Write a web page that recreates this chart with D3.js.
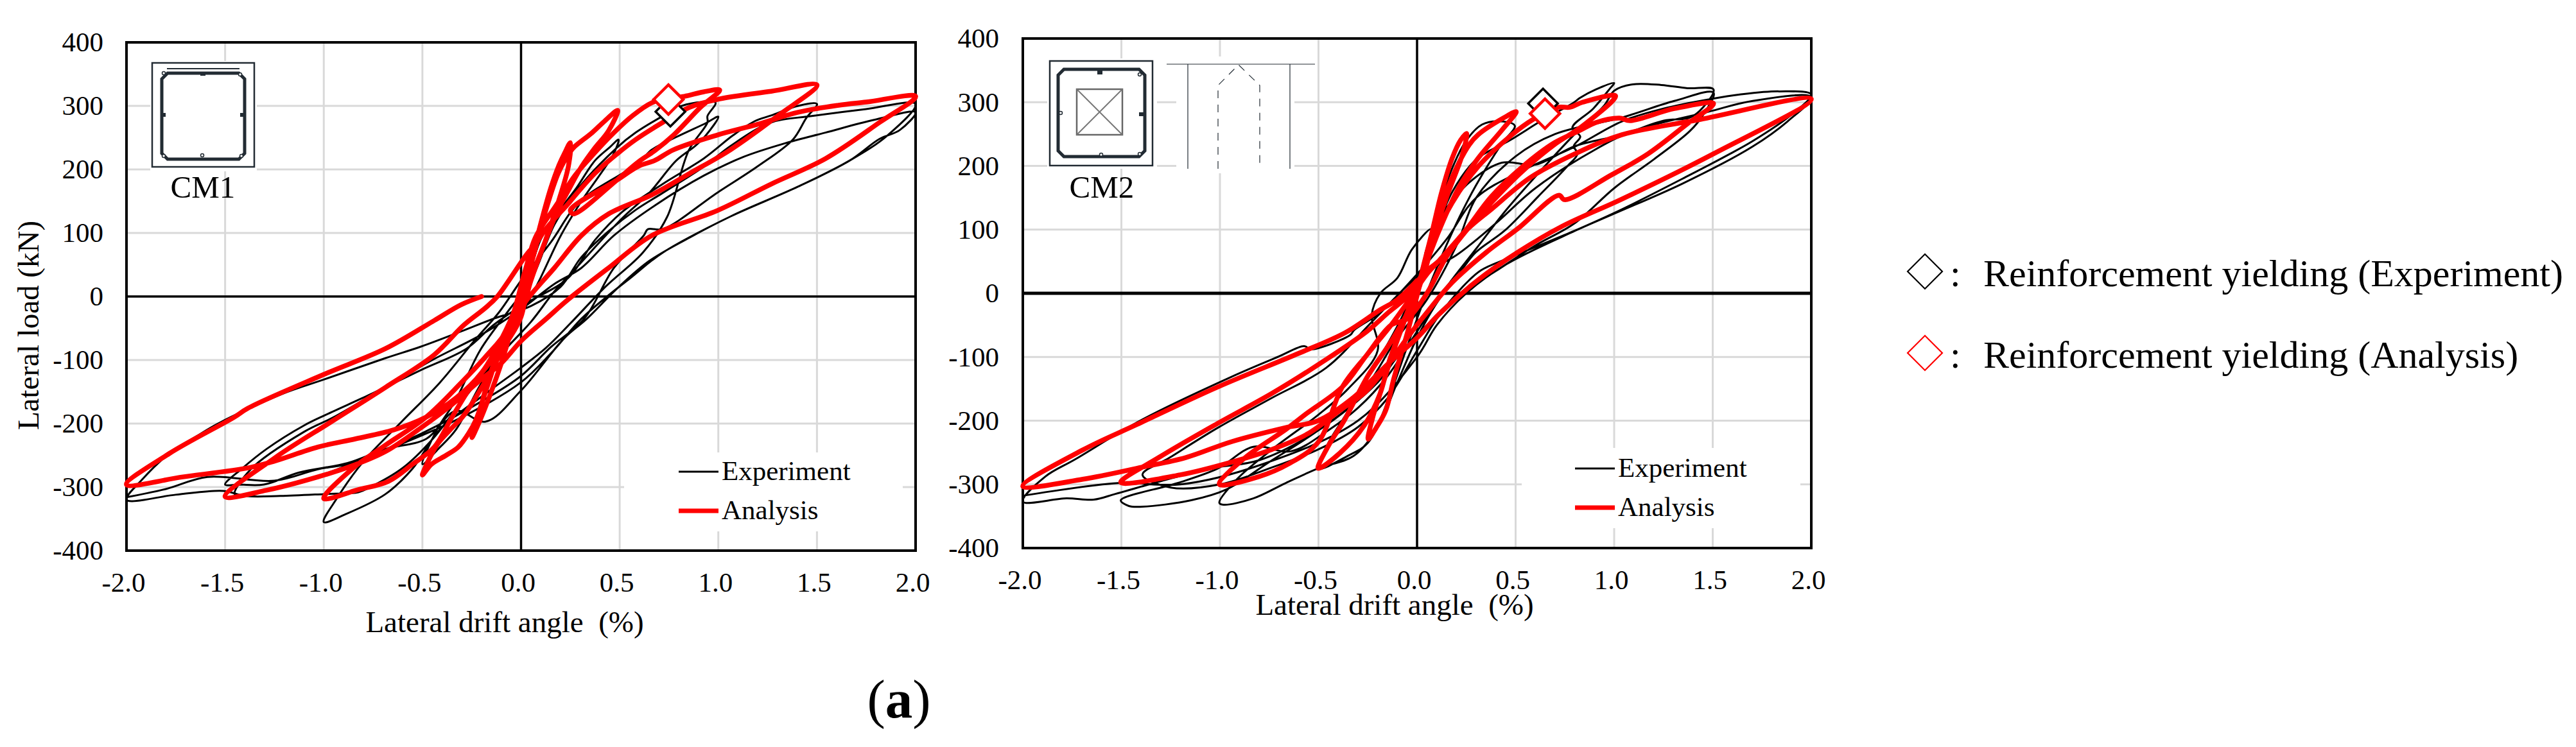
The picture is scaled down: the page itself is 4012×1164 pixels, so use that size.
<!DOCTYPE html>
<html>
<head>
<meta charset="utf-8">
<script src="https://cdn.jsdelivr.net/npm/d3@7"></script>
<style>
  html, body { margin: 0; background: #fff; }
  svg { display: block; }
  text { font-family: "Liberation Serif", serif; fill: #000; white-space: pre; }
</style>
</head>
<body>
<div id="chart"></div>
<script>
// values: [drift %, load kN]
var xTicks = [-2, -1.5, -1, -0.5, 0, 0.5, 1, 1.5, 2];
var xTickLabels = ["-2.0", "-1.5", "-1.0", "-0.5", "0.0", "0.5", "1.0", "1.5", "2.0"];
var yTicks = [-400, -300, -200, -100, 0, 100, 200, 300, 400];
var yTickLabels = ["-400", "-300", "-200", "-100", "0", "100", "200", "300", "400"];
var xTitle = "Lateral drift angle  (%)";
var yTitle = "Lateral load (kN)";
var seriesNames = ["Experiment", "Analysis"];
var yieldNames = ["Reinforcement yielding (Experiment)", "Reinforcement yielding (Analysis)"];

var cm1Experiment = [
  [0,0],[.05,45],[.1,90],[.169,125],[.279,170],[.375,214],[.45,235],[.494,247],
  [.47,225],[.306,150],[.2,95],[.1,30],[0,-30],[-.07,-70],[-.208,-140],[-.331,-210],[-.42,-240],[-.5,-264],
  [-.427,-210],[-.331,-163],[-.208,-85],[-.07,-25],[.05,25],[.169,113],[.29,170],[.485,234],[.581,258],
  [.718,284],[.815,300],[.918,306],[.986,305],[.945,284],[.945,274],
  [.85,230],[.74,125],[.617,69],[.43,16],[.248,-43],[.126,-81],[0,-112],[-.18,-153],[-.413,-210],[-.55,-271],
  [-.687,-311],[-.892,-343],[-1,-355],[-.934,-318],[-.8,-260],[-.605,-197],[-.413,-136],[-.235,-69],[-.112,-25],
  [0,25],[.15,85],[.3,150],[.595,210],[.663,231],[.787,251],[.938,273],[1,283],
  [.938,254],[.883,237],[.787,214],[.65,163],[.512,123],[.279,45],[.169,8],[.05,-40],[-.1,-90],[-.3,-165],
  [-.45,-225],[-.6,-270],[-.77,-301],[-.824,-308],[-1,-311],[-1.22,-314],[-1.4,-314],[-1.508,-306],[-1.75,-312],[-2,-320],
  [-1.92,-288],[-1.782,-247],[-1.645,-220],[-1.536,-200],[-1.207,-153],[-1.002,-131],[-.687,-97],[-.509,-79],[-.304,-55],[-.14,-35],
  [.05,-15],[.2,15],[.306,62],[.444,103],[.58,136],[.718,163],[.925,204],[1.062,237],[1.268,274],[1.474,284],[1.749,295],[2,303],
  [1.859,254],[1.666,214],[1.405,173],[1.062,126],[.856,93],[.65,56],[.485,12],[.334,-35],[.218,-66],[0,-148],
  [-.18,-197],[-.331,-180],[-.48,-224],[-.687,-240],[-.879,-262],[-1.125,-277],[-1.303,-296],[-1.43,-296],[-1.5,-296],
  [-1.415,-271],[-1.29,-240],[-1.1,-203],[-.988,-186],[-.756,-153],[-.509,-116],[-.276,-82],[-.14,-45],[0,-15],
  [.238,29],[.375,89],[.512,133],[.718,177],[.925,217],[1.076,254],[1.185,276],[1.268,285],[1.404,300],[1.5,303],
  [1.446,281],[1.378,247],[1.2,205],[.993,163],[.718,106],[.643,106],[.622,96],[.471,45],[.32,-35],[.15,-80],[0,-125],
  [-.2,-165],[-.5,-215],[-.8,-255],[-1,-280],[-1.2,-298],[-1.45,-312],[-1.37,-272],[-1.1,-213],[-.95,-190],[-.7,-145],[-.45,-100],
  [-.2,-60],[0,-20],[.17,20],[.306,45],[.471,96],[.677,143],[.925,190],[1.13,220],[1.337,241],[1.543,258],[1.79,278],[2,290],
  [1.92,262],[1.817,248],[1.666,214],[1.405,173],[1.062,126],[.718,69],[.554,29],[.444,2],[.306,-35],[.15,-90],[0,-135],
  [-.3,-190],[-.646,-237],[-.85,-262],[-1.03,-272],[-1.25,-290],[-1.59,-284],[-1.8,-303],[-2,-316]
];

var cm1Analysis = [
  [0,0],[.05,55],[.1,115],[.15,170],[.19,205],[.22,225],[.25,242],
  [.24,205],[.19,150],[.12,85],[.05,30],[0,-15],[-.05,-55],[-.1,-105],[-.167,-163],[-.215,-200],[-.249,-222],
  [-.215,-186],[-.16,-125],[-.1,-75],[-.05,-35],[0,5],
  [.05,50],[.12,130],[.19,195],[.25,228],[.272,236],[.361,258],[.42,275],[.49,293],
  [.444,261],[.37,232],[.306,204],[.245,170],[.183,133],[.12,85],[.05,25],[0,-25],
  [-.05,-40],[-.12,-95],[-.18,-150],[-.23,-195],[-.263,-214],[-.318,-237],[-.38,-250],[-.454,-264],[-.5,-281],
  [-.427,-234],[-.36,-210],[-.29,-187],[-.18,-133],[-.085,-79],[0,-32],
  [.073,80],[.25,150],[.375,194],[.485,224],[.581,247],[.718,274],[.856,298],[1.007,311],[1.268,323],[1.5,333],
  [1.309,286],[1.062,231],[.856,194],[.663,160],[.444,130],[.306,96],[.169,45],[.03,-5],[-.07,-52],
  [-.15,-100],[-.25,-140],[-.35,-190],[-.44,-237],[-.55,-264],[-.673,-291],[-.824,-304],[-1,-318],
  [-.851,-270],[-.687,-234],[-.482,-190],[-.304,-136],[-.18,-95],[-.07,-52],[.02,40],
  [.073,93],[.183,146],[.265,187],[.37,225],[.471,258],[.567,285],[.663,305],[.747,312],[.828,315],[.924,322],[1.007,325],
  [.91,298],[.773,254],[.68,230],[.595,212],[.485,183],[.265,130],[.25,136],[.485,183],
  [.595,205],[.677,214],[.773,231],[.993,254],[1.2,271],[1.405,290],[1.61,301],[1.75,306],[2,315],
  [1.817,274],[1.543,217],[1.268,177],[.993,135],[.663,96],[.444,45],[.238,-5],[.128,-35],[0,-70],[-.1,-105],
  [-.2,-130],[-.35,-170],[-.5,-205],[-.687,-244],[-.851,-266],[-1.03,-284],[-1.29,-305],[-1.5,-315],
  [-1.248,-254],[-.961,-197],[-.687,-143],[-.441,-92],[-.29,-45],[-.181,-18],[-.12,0],[.06,76],
  [.02,20],[-.08,-55],[-.2,-120],[-.331,-160],[-.482,-190],[-.646,-210],[-.838,-224],[-1.03,-237],[-1.248,-259],
  [-1.372,-269],[-1.714,-284],[-2,-296],
  [-1.782,-247],[-1.454,-190],[-1.385,-176],[-1.002,-123],[-.687,-82],[-.441,-38],[-.304,-13],[-.2,0]
];

var cm2Experiment = [
  [0,0],[.05,60],[.1,120],[.17,190],[.25,240],[.33,265],[.42,270],[.496,263],
  [.43,235],[.3,170],[.2,110],[.1,40],[0,-40],[-.08,-110],[-.15,-170],[-.25,-235],[-.35,-255],[-.5,-275],
  [-.45,-235],[-.36,-190],[-.25,-130],[-.15,-80],[-.05,-20],[.06,70],[.18,160],[.3,210],[.47,240],[.642,273],
  [.788,298],[.828,307],[.907,320],[1,330],[.98,322],[.894,290],[.788,260],[.828,246],[.795,231],[.814,219],
  [.761,199],[.615,152],[.443,98],[.297,64],[.204,27],[.111,-10],[0,-70],[-.1,-140],[-.2,-210],[-.32,-255],
  [-.502,-275],[-.667,-298],[-.831,-322],[-.982,-332],[-1.003,-329],[-.914,-292],[-.735,-245],[-.502,-191],
  [-.35,-150],[-.2,-90],[-.23,-34],[-.186,0],[-.1,24],[-.026,69],[.072,101],[.04,60],[.12,120],[.25,170],[.43,205],
  [.602,202],[.801,231],[1.04,249],[1.252,271],[1.385,276],[1.451,292],[1.504,320],[1.372,322],[1.239,327],[1.093,328],[1,318],
  [.95,295],[.8,250],[.62,190],[.45,130],[.3,70],[.15,10],[0,-60],[-.15,-130],[-.3,-180],[-.45,-215],[-.639,-248],
  [-.831,-241],[-1.01,-275],[-1.215,-298],[-1.503,-325],[-1.462,-334],[-1.393,-335],[-1.146,-325],[-.967,-308],[-.75,-265],
  [-.5,-215],[-.3,-165],[-.1,-70],[.05,-10],[.2,75],[.3,150],[.5,215],[.7,250],[1.04,276],[1.305,302],[1.504,315],
  [1.451,280],[1.385,255],[1.2,210],[1,165],[.8,110],[.6,75],[.4,35],[.2,-5],[.05,-50],[-.1,-100],[-.2,-140],
  [-.5,-215],[-.8,-262],[-1.05,-275],[-1.3,-295],[-1.53,-315],[-1.64,-324],[-1.778,-322],[-2,-327],
  [-1.887,-288],[-1.736,-261],[-1.393,-198],[-.941,-131],[-.707,-100],[-.571,-83],[-.54,-88],[-.337,-65],[-.32,-58],[-.187,-30],
  [0,30],[.15,85],[.3,150],[.55,195],[.8,230],[1.04,270],[1.25,290],[1.491,305],[1.637,312],[1.835,317],[2,312],
  [1.902,281],[1.703,239],[1.57,216],[1.385,186],[1.04,132],[.775,95],[.47,56],[.324,36],[.231,10],[.1,-40],[0,-90],
  [-.15,-165],[-.3,-210],[-.5,-245],[-.75,-275],[-1,-300],[-1.25,-305],[-1.393,-285],[-1.255,-258],[-1.01,-211],[-.735,-164],
  [-.461,-117],[-.214,-40],[0,25],[.2,60],[.4,110],[.6,165],[.9,225],[1.1,255],[1.478,285],[1.703,302],[2,308],
  [1.88,270],[1.7,230],[1.345,172],[1,125],[.801,98],[.45,45],[.25,0],[.1,-50],[0,-100],[-.3,-200],[-.8,-270],[-1.2,-300],[-1.517,-298],[-2,-318]
];

var cm2Analysis = [
  [0,0],[.03,40],[.072,91],[.125,159],[.178,212],[.22,240],[.251,251],
  [.231,219],[.151,152],[.085,91],[.02,20],[-.05,-63],[-.118,-134],[-.159,-184],[-.207,-211],[-.248,-229],
  [-.225,-195],[-.187,-157],[-.13,-100],[-.06,-40],[0,10],
  [.045,41],[.111,125],[.178,182],[.264,233],[.31,249],[.443,276],[.503,285],
  [.43,256],[.31,212],[.217,169],[.111,98],[.019,24],[-.05,-30],[-.145,-110],[-.187,-157],[-.269,-208],[-.392,-251],[-.502,-275],
  [-.447,-238],[-.37,-200],[-.25,-130],[-.12,-70],[0,0],
  [.072,74],[.178,142],[.31,199],[.47,246],[.589,273],[.715,292],[.775,292],[.84,300],[1.007,310],
  [.841,263],[.695,233],[.536,192],[.4,150],[.257,101],[.151,58],[.05,0],[-.05,-40],[-.132,-50],[-.255,-97],
  [-.379,-147],[-.502,-234],[-.653,-268],[-.804,-288],[-1.003,-300],
  [-.872,-258],[-.667,-214],[-.557,-188],[-.379,-147],[-.255,-97],[-.132,-50],[-.05,-15],[.05,30],
  [.111,51],[.244,98],[.377,152],[.536,199],[.695,236],[.828,256],[.907,268],[1.027,275],[1.08,271],[1.305,290],[1.504,298],
  [1.371,266],[1.172,219],[.987,186],[.748,147],[.72,154],[.509,101],[.35,64],[.178,17],[.058,-27],[-.05,-70],[-.159,-117],
  [-.269,-157],[-.379,-181],[-.557,-221],[-.735,-245],[-.941,-265],[-1.201,-285],[-1.503,-297],
  [-1.311,-258],[-1.01,-204],[-.735,-157],[-.461,-104],[-.255,-60],[-.145,-30],[-.05,-5],[.03,30],
  [.111,51],[.257,101],[.377,132],[.576,182],[.801,219],[1.04,249],[1.438,273],[2.0,305],
  [1.504,219],[1.04,148],[.735,105],[.509,64],[.31,21],[.111,-33],[0,-70],[-.145,-110],
  [-.324,-164],[-.502,-200],[-.667,-211],[-.941,-233],[-1.174,-258],[-1.394,-273],[-1.696,-292],[-2,-303],
  [-1.696,-246],[-1.421,-206],[-1.01,-147],[-.598,-94],[-.365,-62],[-.187,-26],[-.1,-10],[0,20]
];

var cm1YieldExperiment = [[.757, 291]];
var cm1YieldAnalysis = [[.747, 310]];
var cm2YieldExperiment = [[.639, 298]];
var cm2YieldAnalysis = [[.649, 282]];

var svg = d3.select("#chart").append("svg")
  .attr("width", 4012)
  .attr("height", 1164);

svg.append("rect").attr("width", 4012).attr("height", 1164).attr("fill", "#fff");

var line_color = "#222b33";
var exp_color = "#000";
var ana_color = "#ff0000";

function drawPanel(p) {
  var x = d3.scaleLinear().domain([-2, 2]).range([p.left, p.right]);
  var y = d3.scaleLinear().domain([-400, 400]).range([p.bottom, p.top]);
  var g = svg.append("g");

  // gridlines
  g.append("g").selectAll("line").data(xTicks).enter().append("line")
    .attr("x1", function(d) {return x(d)}).attr("x2", function(d) {return x(d)})
    .attr("y1", p.top).attr("y2", p.bottom)
    .attr("stroke", "#d9d9d9").attr("stroke-width", 3);
  g.append("g").selectAll("line").data(yTicks).enter().append("line")
    .attr("y1", function(d) {return y(d)}).attr("y2", function(d) {return y(d)})
    .attr("x1", p.left).attr("x2", p.right)
    .attr("stroke", "#d9d9d9").attr("stroke-width", 3);

  // white patches the insets and legend sit on
  p.patches.forEach(function(r) {
    g.append("rect").attr("x", r[0]).attr("y", r[1]).attr("width", r[2]).attr("height", r[3]).attr("fill", "#fff");
  });

  // zero lines
  g.append("line").attr("x1", x(0)).attr("x2", x(0)).attr("y1", p.top).attr("y2", p.bottom)
    .attr("stroke", "#000").attr("stroke-width", 3.5);
  g.append("line").attr("x1", p.left).attr("x2", p.right).attr("y1", y(0)).attr("y2", y(0))
    .attr("stroke", "#000").attr("stroke-width", p.zeroWidth);

  // frame
  g.append("rect").attr("x", p.left).attr("y", p.top)
    .attr("width", p.right - p.left).attr("height", p.bottom - p.top)
    .attr("fill", "none").attr("stroke", "#000").attr("stroke-width", 4);

  // axes, only the labels of them are visible
  var xAxis = d3.axisBottom(x).tickValues(xTicks).tickSize(0)
    .tickFormat(function(d, i) {return xTickLabels[i]});
  var yAxis = d3.axisLeft(y).tickValues(yTicks).tickSize(0)
    .tickFormat(function(d, i) {return yTickLabels[i]});
  var gx = g.append("g").attr("transform", "translate(-5," + p.bottom + ")").call(xAxis);
  var gy = g.append("g").attr("transform", "translate(" + p.yLabelX + ",0)").call(yAxis);
  gx.select(".domain").remove();
  gy.select(".domain").remove();
  gx.selectAll("text").attr("dy", 0).attr("y", p.xLabelOffset)
    .style("font-family", "Liberation Serif").style("font-size", "43px").attr("fill", "#000");
  gy.selectAll("text").attr("x", 0).attr("dy", "0.32em")
    .style("font-family", "Liberation Serif").style("font-size", "43px").attr("fill", "#000");

  g.append("text").attr("x", p.titleX).attr("y", p.titleY)
    .attr("text-anchor", "middle").attr("font-size", 47).text(xTitle);

  // curves
  var path = d3.line()
    .x(function(d) {return x(d[0])})
    .y(function(d) {return y(d[1])})
    .curve(d3.curveCatmullRom.alpha(0.5));

  g.append("path").attr("d", path(p.experiment))
    .attr("fill", "none").attr("stroke", exp_color).attr("stroke-width", 3)
    .attr("stroke-linejoin", "round");
  g.append("path").attr("d", path(p.analysis))
    .attr("fill", "none").attr("stroke", ana_color).attr("stroke-width", 7.5)
    .attr("stroke-linejoin", "round").attr("stroke-linecap", "round");

  // yield markers
  var diamond = d3.symbol().type(d3.symbolSquare).size(1058);
  [[p.yieldExperiment, exp_color, 3.5], [p.yieldAnalysis, ana_color, 4.5]].forEach(function(m) {
    g.selectAll(null).data(m[0]).enter().append("path")
      .attr("d", diamond)
      .attr("transform", function(d) {return "translate(" + x(d[0]) + "," + y(d[1]) + ") rotate(45)"})
      .attr("fill", "#fff").attr("stroke", m[1]).attr("stroke-width", m[2]);
  });

  // series legend
  g.append("line").attr("x1", p.legendX).attr("x2", p.legendX + 62).attr("y1", p.legendY[0]).attr("y2", p.legendY[0])
    .attr("stroke", exp_color).attr("stroke-width", 3);
  g.append("line").attr("x1", p.legendX).attr("x2", p.legendX + 62).attr("y1", p.legendY[1]).attr("y2", p.legendY[1])
    .attr("stroke", ana_color).attr("stroke-width", 7);
  seriesNames.forEach(function(name, i) {
    g.append("text").attr("x", p.legendX + 67).attr("y", p.legendY[i] + 13)
      .attr("font-size", 43).text(name);
  });

  g.append("text").attr("x", p.nameX).attr("y", 308).attr("text-anchor", "middle")
    .attr("font-size", 49).text(p.name);
}

// column section sketch, corners trimmed like the drawing
function stirrup(g, x0, y0, x1, y1, w) {
  var c = 9;
  g.append("path")
    .attr("d", "M" + (x0 + c) + "," + y0 + "H" + (x1 - c) + "L" + x1 + "," + (y0 + c) + "V" + (y1 - c) +
      "L" + (x1 - c) + "," + y1 + "H" + (x0 + c) + "L" + x0 + "," + (y1 - c) + "V" + (y0 + c) + "Z")
    .attr("fill", "none").attr("stroke", line_color).attr("stroke-width", w);
}

function bars(g, pts) {
  g.selectAll(null).data(pts).enter().append("rect")
    .attr("x", function(d) {return d[0] - 4}).attr("y", function(d) {return d[1] - 3})
    .attr("width", 8).attr("height", 6).attr("fill", line_color);
}

function rebars(g, pts) {
  g.selectAll(null).data(pts).enter().append("circle")
    .attr("cx", function(d) {return d[0]}).attr("cy", function(d) {return d[1]}).attr("r", 2.5)
    .attr("fill", "#fff").attr("stroke", line_color).attr("stroke-width", 1.5);
}

drawPanel({
  left: 197, right: 1426, top: 66, bottom: 858, zeroWidth: 3.5,
  yLabelX: 161, xLabelOffset: 64, titleX: 786, titleY: 985,
  name: "CM1", nameX: 316,
  legendX: 1057, legendY: [735, 796],
  patches: [[234, 95, 166, 172], [972, 705, 434, 123]],
  experiment: cm1Experiment, analysis: cm1Analysis,
  yieldExperiment: cm1YieldExperiment, yieldAnalysis: cm1YieldAnalysis
});

drawPanel({
  left: 1593, right: 2821, top: 60, bottom: 854, zeroWidth: 5,
  yLabelX: 1556, xLabelOffset: 64, titleX: 2172, titleY: 958,
  name: "CM2", nameX: 1716,
  legendX: 2453, legendY: [730, 791],
  patches: [[1631, 91, 171, 172], [1832, 88, 184, 182], [2370, 698, 434, 125]],
  experiment: cm2Experiment, analysis: cm2Analysis,
  yieldExperiment: cm2YieldExperiment, yieldAnalysis: cm2YieldAnalysis
});

// insets go on top of the white patches
var ins = svg.append("g");

ins.append("rect").attr("x", 237).attr("y", 98).attr("width", 159).attr("height", 162)
  .attr("fill", "none").attr("stroke", line_color).attr("stroke-width", 2.5);
stirrup(ins, 252, 114, 381, 248, 5);
ins.append("line").attr("x1", 260).attr("x2", 373).attr("y1", 107).attr("y2", 107)
  .attr("stroke", line_color).attr("stroke-width", 2);
bars(ins, [[316, 115], [254, 179], [378, 179]]);
rebars(ins, [[255, 114], [374, 116], [255, 243], [376, 243], [315, 242]]);

ins.append("rect").attr("x", 1635).attr("y", 95).attr("width", 160).attr("height", 163)
  .attr("fill", "none").attr("stroke", line_color).attr("stroke-width", 2.5);
stirrup(ins, 1648, 108, 1783, 244, 5);
bars(ins, [[1713, 113], [1778, 178]]);
rebars(ins, [[1775, 116], [1652, 176], [1715, 241], [1775, 240]]);
ins.append("rect").attr("x", 1677).attr("y", 139).attr("width", 71).attr("height", 71)
  .attr("fill", "none").attr("stroke", "#666").attr("stroke-width", 2.5);
ins.append("path").attr("d", "M1677,139L1748,210M1748,139L1677,210")
  .attr("fill", "none").attr("stroke", "#777").attr("stroke-width", 2);

ins.append("path").attr("d", "M1817,100H2048M1850,100V263M2009,100V263")
  .attr("fill", "none").attr("stroke", line_color).attr("stroke-width", 1.2);
ins.append("path").attr("d", "M1897,263V133L1929,101L1962,133V263")
  .attr("fill", "none").attr("stroke", line_color).attr("stroke-width", 1.2)
  .attr("stroke-dasharray", "12 10");

// yield legend on the right
var legendDiamond = d3.symbol().type(d3.symbolSquare).size(1458);
[[423, exp_color], [550, ana_color]].forEach(function(d, i) {
  svg.append("path").attr("d", legendDiamond)
    .attr("transform", "translate(2998," + d[0] + ") rotate(45)")
    .attr("fill", "#fff").attr("stroke", d[1]).attr("stroke-width", 2.2);
  svg.append("text").attr("x", 3037).attr("y", d[0] + 23).attr("font-size", 60).text(":");
  svg.append("text").attr("x", 3089).attr("y", d[0] + 23).attr("font-size", 60).text(yieldNames[i]);
});

// axis title on the left, panel label at the bottom
svg.append("text").attr("transform", "translate(60,507) rotate(-90)")
  .attr("text-anchor", "middle").attr("font-size", 47).text(yTitle);

var panelLabel = svg.append("text").attr("x", 1400).attr("y", 1118)
  .attr("text-anchor", "middle").attr("font-size", 85);
panelLabel.append("tspan").text("(");
panelLabel.append("tspan").attr("font-weight", "bold").text("a");
panelLabel.append("tspan").text(")");
</script>
</body>
</html>
